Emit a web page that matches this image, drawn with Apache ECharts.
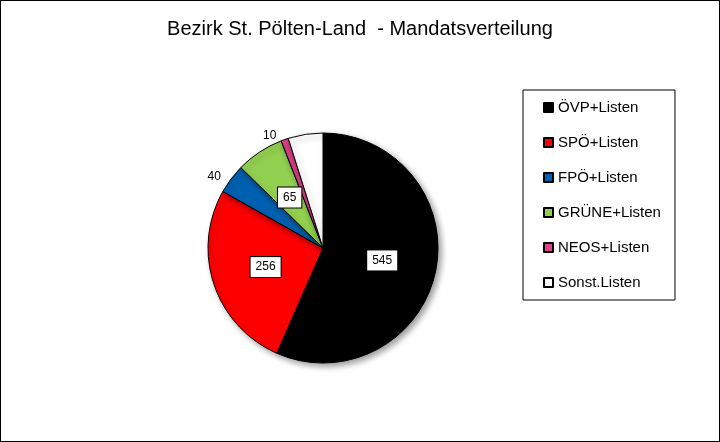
<!DOCTYPE html>
<html><head><meta charset="utf-8">
<script src="https://cdn.jsdelivr.net/npm/echarts@6/dist/echarts.min.js"></script>
<style>html,body{margin:0;padding:0;background:#fff}#c{width:718px;height:440px;border:1px solid #000}</style>
</head><body><div id="c"></div>
<script>
const categories = ["ÖVP+Listen","SPÖ+Listen","FPÖ+Listen","GRÜNE+Listen","NEOS+Listen","Sonst.Listen"];
const values = [545,256,40,65,10,47];
const colors = ["#000000","#ff0000","#0060b0","#92d050","#e0408a","#ffffff"];
const outsideLabels = [false,false,true,false,true,false];
const chart = echarts.init(document.getElementById('c'));
const inLabel = {show:true,position:'inside',color:'#000',fontSize:12,fontFamily:'Liberation Sans',backgroundColor:'#fff',borderColor:'#000',borderWidth:1,padding:[4,5]};
const outLabel = {show:true,position:'outside',color:'#000',fontSize:12,fontFamily:'Liberation Sans',backgroundColor:'transparent',borderWidth:0};
chart.setOption({
  animation:false,
  title:{text:'Bezirk St. Pölten-Land  - Mandatsverteilung',left:'center',top:13,textStyle:{fontFamily:'Liberation Sans',fontWeight:'normal',fontSize:20,color:'#000'}},
  legend:{orient:'vertical',left:522,top:89,width:168,height:234,padding:[10,14,10,20],itemGap:20,borderColor:'#000',borderWidth:1,itemWidth:9,itemHeight:9,icon:'rect',
    textStyle:{fontFamily:'Liberation Sans',fontSize:15,color:'#000'},data:categories},
  series:[{type:'pie',center:[322,247],radius:115,startAngle:90,clockwise:true,
    labelLine:{show:false,length:4,length2:2},
    itemStyle:{borderColor:'#000',borderWidth:1,shadowBlur:6,shadowColor:'rgba(0,0,0,0.4)',shadowOffsetX:3,shadowOffsetY:3},
    data:categories.map((n,i)=>({name:n,value:values[i],itemStyle:{color:colors[i]},
      label:Object.assign({formatter:'{c}'},outsideLabels[i]?outLabel:inLabel),
      labelLine:{show:false}}))
  }]
});
</script></body></html>
